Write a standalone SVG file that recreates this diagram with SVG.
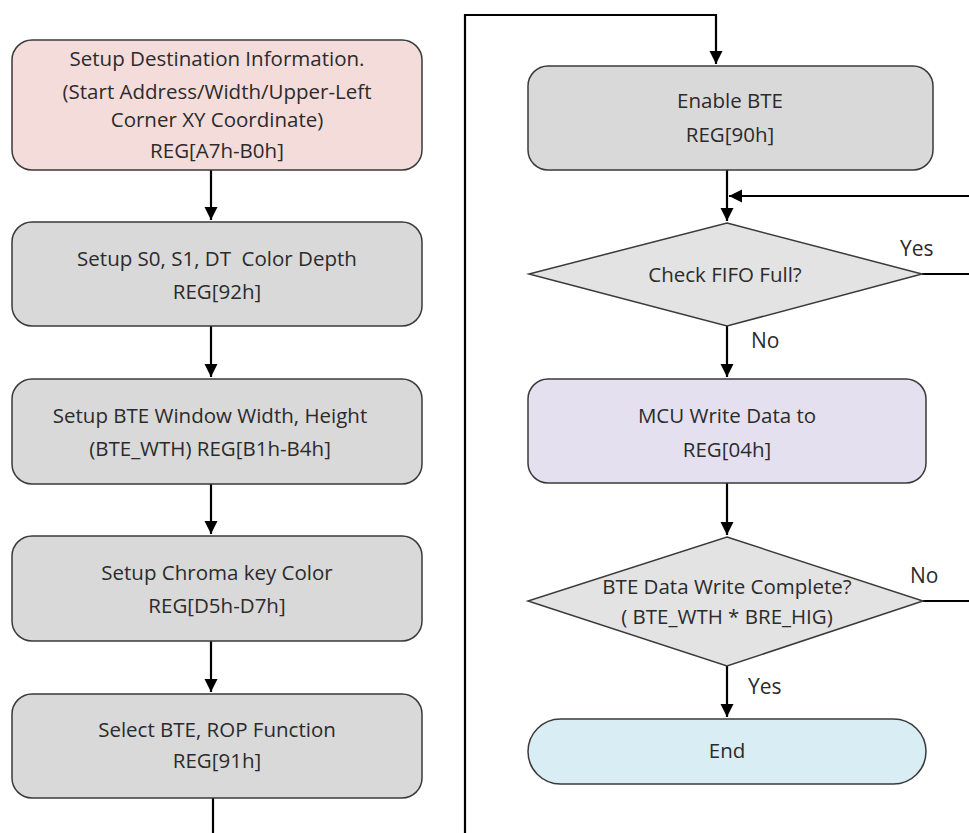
<svg xmlns="http://www.w3.org/2000/svg" width="969" height="833" viewBox="0 0 969 833">
<style>
.box{stroke:#3a3a3a;stroke-width:1.5}
.g{fill:#d9d9d9}
.t{font-family:"Open Sans","Noto Sans",sans-serif;font-size:20.5px;fill:#2b2b2b;text-anchor:middle;white-space:pre}
.l{font-family:"Open Sans","Noto Sans",sans-serif;font-size:21px;fill:#2b2b2b}
.c{fill:none;stroke:#000;stroke-width:2.2}
</style>
<defs>
<marker id="ah" viewBox="0 0 10 10" refX="10" refY="5" markerWidth="6" markerHeight="6" markerUnits="strokeWidth" orient="auto">
<path d="M0,0 L10,5 L0,10 z" fill="#000"/>
</marker>
</defs>
<rect width="969" height="833" fill="#fff"/>
<g id="connectors">
<path class="c" d="M211,170 V220" marker-end="url(#ah)"/>
<path class="c" d="M211,326 V377" marker-end="url(#ah)"/>
<path class="c" d="M211,484 V534" marker-end="url(#ah)"/>
<path class="c" d="M211,641 V692" marker-end="url(#ah)"/>
<path class="c" d="M213,798 V833"/>
<path class="c" d="M465,833 V15 H716 V64" marker-end="url(#ah)"/>
<path class="c" d="M727,170 V221" marker-end="url(#ah)"/>
<path class="c" d="M969,196 H729" marker-end="url(#ah)"/>
<path class="c" d="M922,274 H969"/>
<path class="c" d="M727,326 V377" marker-end="url(#ah)"/>
<path class="c" d="M727,483 V535" marker-end="url(#ah)"/>
<path class="c" d="M923,601 H969"/>
<path class="c" d="M727,666 V717" marker-end="url(#ah)"/>
</g>
<g id="n1">
<rect class="box" x="12" y="40" width="410" height="130" rx="20" fill="#f4dcdb"/>
<text class="t" x="217" y="66">Setup Destination Information.</text>
<text class="t" x="217" y="99">(Start Address/Width/Upper-Left</text>
<text class="t" x="217" y="127">Corner XY Coordinate)</text>
<text class="t" x="217" y="158">REG[A7h-B0h]</text>
</g>
<g id="n2">
<rect class="box g" x="12" y="222" width="410" height="104" rx="20"/>
<text class="t" x="217" y="266">Setup S0, S1, DT  Color Depth</text>
<text class="t" x="217" y="299">REG[92h]</text>
</g>
<g id="n3">
<rect class="box g" x="12" y="379" width="410" height="105" rx="20"/>
<text class="t" x="210" y="423">Setup BTE Window Width, Height</text>
<text class="t" x="210" y="456">(BTE_WTH) REG[B1h-B4h]</text>
</g>
<g id="n4">
<rect class="box g" x="12" y="536" width="410" height="105" rx="20"/>
<text class="t" x="217" y="580">Setup Chroma key Color</text>
<text class="t" x="217" y="613">REG[D5h-D7h]</text>
</g>
<g id="n5">
<rect class="box g" x="12" y="694" width="410" height="104" rx="20"/>
<text class="t" x="217" y="737">Select BTE, ROP Function</text>
<text class="t" x="217" y="768">REG[91h]</text>
</g>
<g id="n6">
<rect class="box g" x="528" y="66" width="405" height="104" rx="20"/>
<text class="t" x="730" y="108">Enable BTE</text>
<text class="t" x="730" y="142">REG[90h]</text>
</g>
<g id="n7">
<polygon class="box" points="727,223 922,274 727,326 529,274" fill="#e3e3e3"/>
<text class="t" x="725" y="282">Check FIFO Full?</text>
</g>
<g id="n8">
<rect class="box" x="528" y="379" width="398" height="104" rx="20" fill="#e4e0ef"/>
<text class="t" x="727" y="423">MCU Write Data to</text>
<text class="t" x="727" y="457">REG[04h]</text>
</g>
<g id="n9">
<polygon class="box" points="727,537 923,601 727,666 528,601" fill="#e3e3e3"/>
<text class="t" x="727" y="594">BTE Data Write Complete?</text>
<text class="t" x="727" y="624">( BTE_WTH * BRE_HIG)</text>
</g>
<g id="n10">
<rect class="box" x="528" y="719" width="398" height="65" rx="32.5" fill="#d9edf5"/>
<text class="t" x="727" y="758">End</text>
</g>
<g id="labels">
<text class="l" x="900" y="256">Yes</text>
<text class="l" x="751" y="348">No</text>
<text class="l" x="910" y="583">No</text>
<text class="l" x="748" y="694">Yes</text>
</g>
</svg>
